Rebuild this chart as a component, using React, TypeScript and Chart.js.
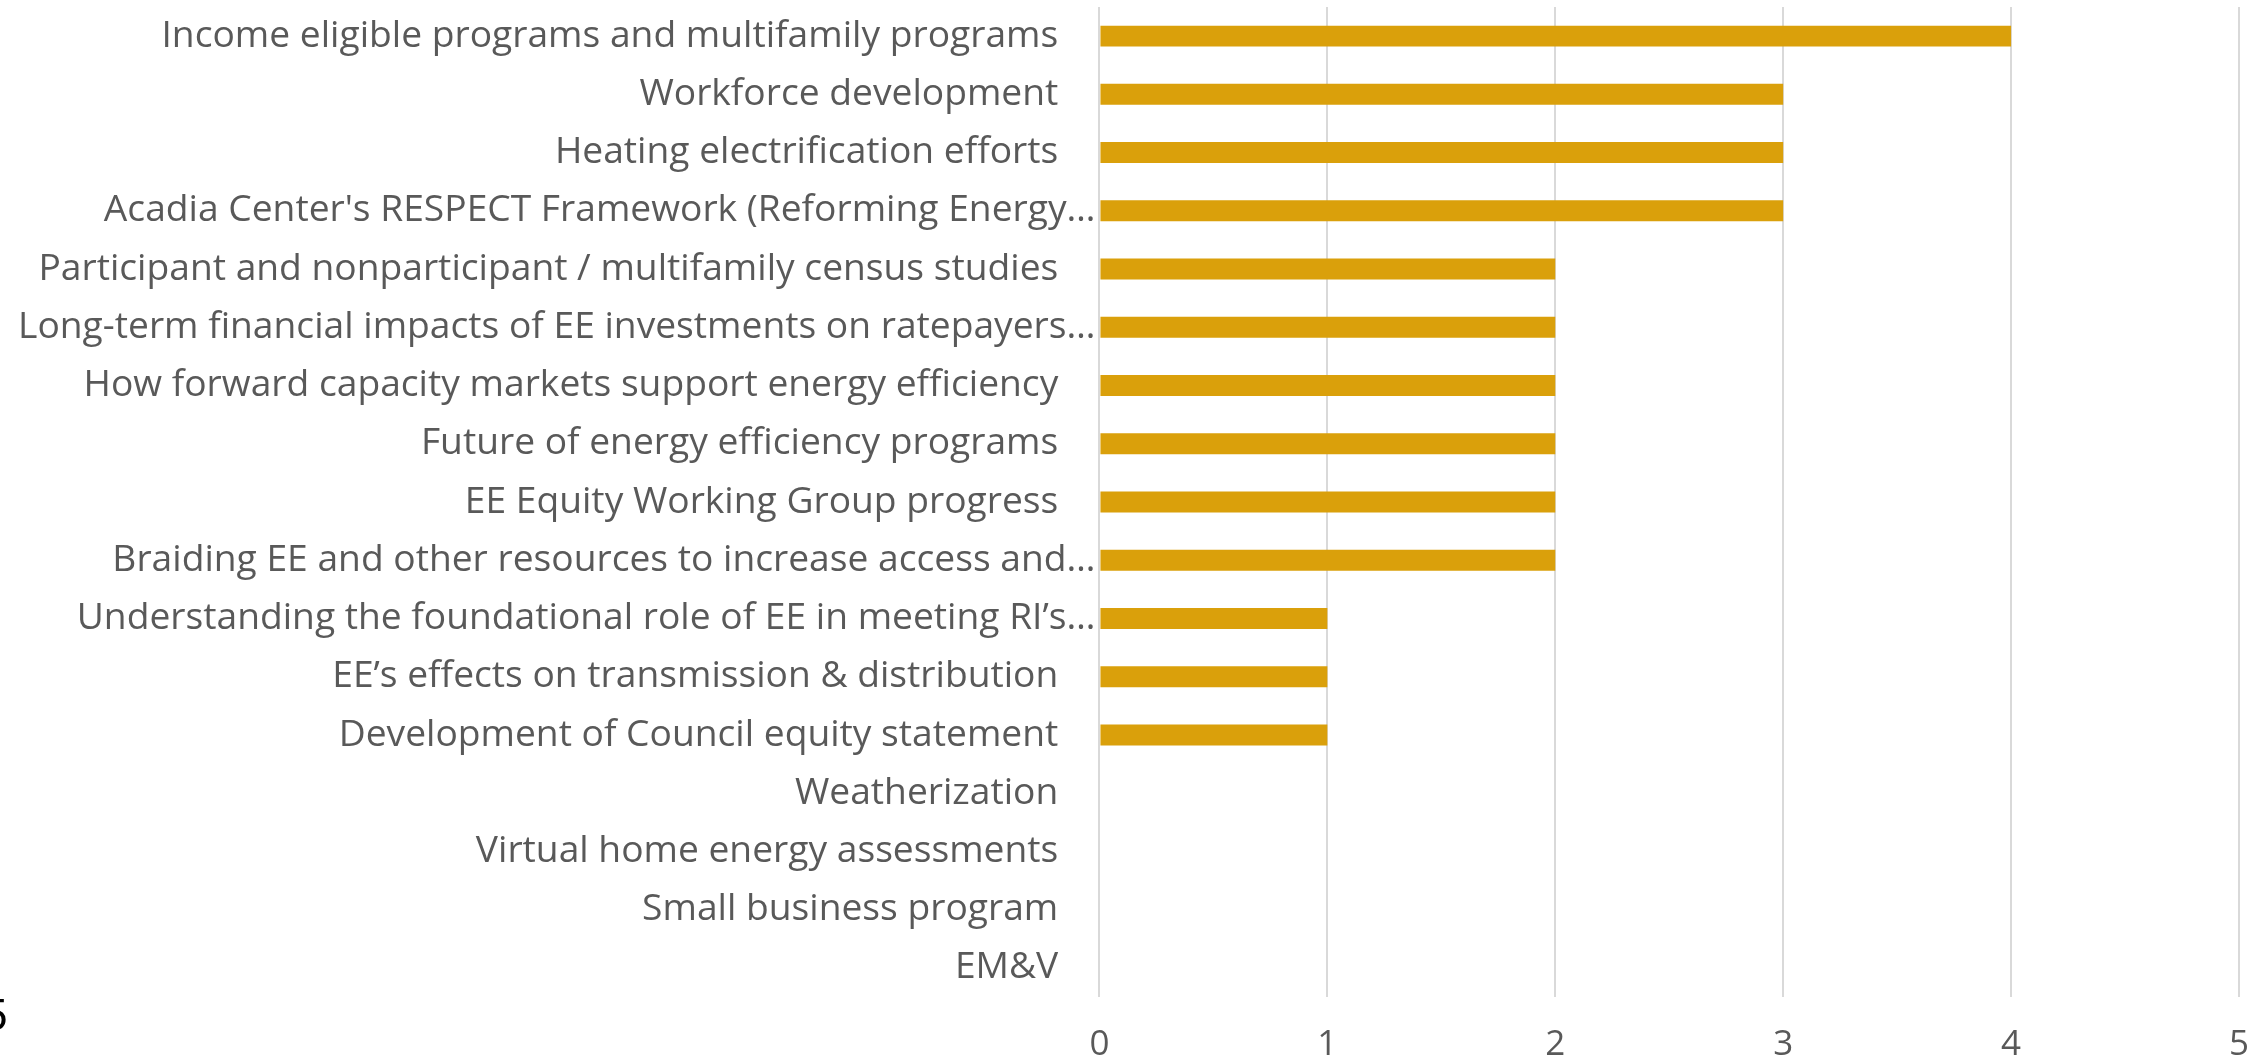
import React, { useEffect, useRef } from "react";
import { Chart, registerables } from "chart.js";

Chart.register(...registerables);

const categories: string[] = [
  "Income eligible programs and multifamily programs",
  "Workforce development",
  "Heating electrification efforts",
  "Acadia Center's RESPECT Framework (Reforming Energy…",
  "Participant and nonparticipant / multifamily census studies",
  "Long-term financial impacts of EE investments on ratepayers…",
  "How forward capacity markets support energy efficiency",
  "Future of energy efficiency programs",
  "EE Equity Working Group progress",
  "Braiding EE and other resources to increase access and…",
  "Understanding the foundational role of EE in meeting RI’s…",
  "EE’s effects on transmission & distribution",
  "Development of Council equity statement",
  "Weatherization",
  "Virtual home energy assessments",
  "Small business program",
  "EM&V",
];

const votes: number[] = [4, 3, 3, 3, 2, 2, 2, 2, 2, 2, 1, 1, 1, 0, 0, 0, 0];

const xTicks: number[] = [0, 1, 2, 3, 4, 5];

const FONT = "'Open Sans', 'Noto Sans', sans-serif";

export default function App() {
  const ref = useRef<HTMLCanvasElement | null>(null);

  useEffect(() => {
    document.body.style.margin = "0";
    const ctx = ref.current!.getContext("2d")!;
    const chart = new Chart(ctx, {
      type: "bar",
      data: {
        labels: categories,
        datasets: [
          {
            data: votes,
            backgroundColor: "#DAA00B",
            borderWidth: 0,
            barPercentage: 0.36,
            categoryPercentage: 1,
          },
        ],
      },
      options: {
        indexAxis: "y",
        animation: false,
        responsive: false,
        maintainAspectRatio: false,
        layout: { padding: { top: 7, right: 28, bottom: 1, left: 14 } },
        plugins: { legend: { display: false }, tooltip: { enabled: false } },
        scales: {
          x: {
            min: xTicks[0],
            max: xTicks[xTicks.length - 1],
            afterFit: (scale: any) => {
              scale.height = 62;
              scale.paddingRight = 10;
              scale.paddingLeft = 0;
            },
            ticks: {
              stepSize: 1,
              color: "#595959",
              font: { family: FONT, size: 35, lineHeight: 0.8 },
              padding: 34,
            },
            grid: { color: "#D9D9D9", lineWidth: 2, drawTicks: false },
            border: { display: false },
          },
          y: {
            ticks: {
              color: "#595959",
              font: { family: FONT, size: 37.2, lineHeight: 0.1 },
              padding: 4,
              autoSkip: false,
              callback: function (this: any, value: any) {
                const s = categories[value as number];
                return s.endsWith("…") ? s : s + "\u2003";
              },
            },
            grid: { display: false, drawTicks: false },
            border: { display: false },
          },
        },
      },
    });
    return () => chart.destroy();
  }, []);

  return (
    <div style={{ position: "fixed", left: 0, top: 0, width: 2267, height: 1060, overflow: "hidden", background: "#fff" }}>
      <canvas ref={ref} width={2267} height={1060} style={{ position: "absolute", left: 0, top: 0 }} />
      <div
        style={{
          position: "absolute",
          left: -17,
          top: 993,
          fontFamily: "'Liberation Sans', Arial, sans-serif",
          fontSize: 44,
          lineHeight: "44px",
          color: "#000",
        }}
      >
        5
      </div>
    </div>
  );
}
